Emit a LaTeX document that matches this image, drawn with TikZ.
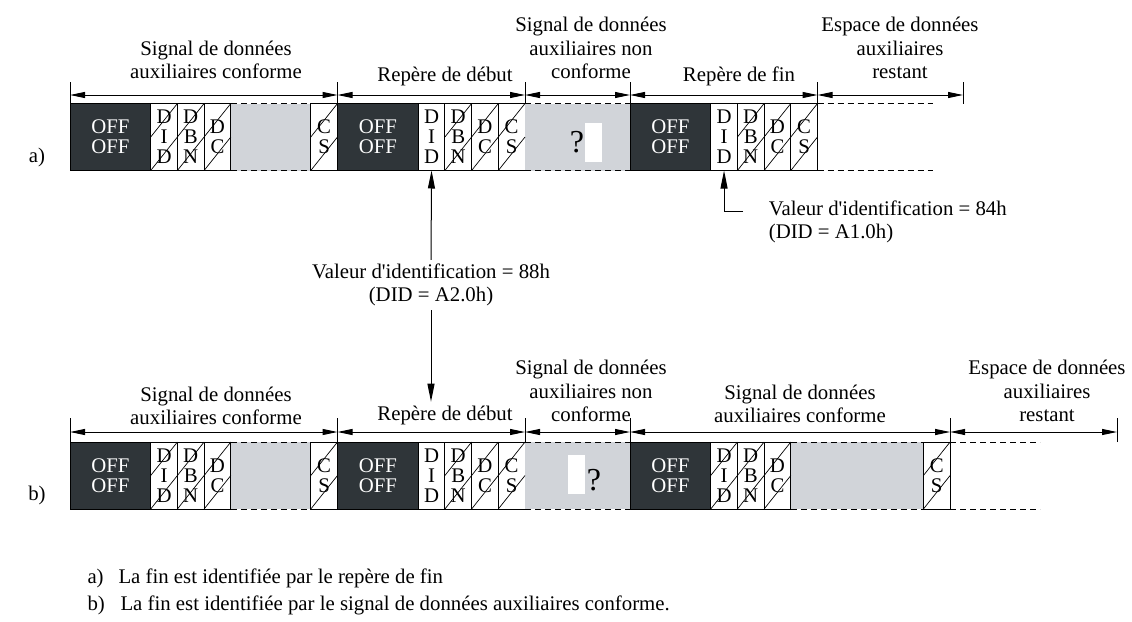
\documentclass[tikz,border=0pt]{standalone}
\usepackage{fontspec}
\setmainfont{Liberation Serif}[Ligatures=TeXOff]
\usetikzlibrary{arrows.meta}
\definecolor{offfill}{RGB}{47,53,57}
\definecolor{auxgray}{RGB}{209,212,217}
\begin{document}
\begin{tikzpicture}[x=1pt,y=-1pt,line width=1pt,
  font=\fontsize{20.8}{23.5}\selectfont,
  cell/.style={draw, anchor=north west, outer sep=0, inner sep=0, minimum height=67, align=center, font=\fontsize{20.8}{20}\selectfont},
  offcell/.style={cell, fill=offfill, text=white, minimum width=80.7},
  bytecell/.style={cell, minimum width=26.7},
  graycell/.style={anchor=north west, outer sep=0, inner sep=0, fill=auxgray, minimum height=67},
  dashline/.style={line width=0.8pt, dash pattern=on 6pt off 4pt},
  hatch/.style={line width=0.7pt},
  dim/.style={{Triangle[length=15pt,width=6pt]}-{Triangle[length=15pt,width=6pt]}},
  conn/.style={-{Triangle[length=18pt,width=7pt]}},
  lab/.style={align=center}]
\useasboundingbox (0,0) rectangle (1132,621);

% row a
\node[offcell] (aoff1) at (70,103.5) {OFF\\OFF};
\node[bytecell] (adid1) at (aoff1.north east) {D\\I\\D};
\node[bytecell] (adbn1) at (adid1.north east) {D\\B\\N};
\node[bytecell] (adc1) at (adbn1.north east) {D\\C};
\node[graycell, minimum width=80] (audw1) at (adc1.north east) {};
\node[bytecell] (acs1) at (audw1.north east) {C\\S};
\node[offcell] (aoff2) at (acs1.north east) {OFF\\OFF};
\node[bytecell] (adid2) at (aoff2.north east) {D\\I\\D};
\node[bytecell] (adbn2) at (adid2.north east) {D\\B\\N};
\node[bytecell] (adc2) at (adbn2.north east) {D\\C};
\node[bytecell] (acs2) at (adc2.north east) {C\\S};
\node[graycell, minimum width=105] (audw3) at (acs2.north east) {};
\node[offcell] (aoff4) at (audw3.north east) {OFF\\OFF};
\node[bytecell] (adid4) at (aoff4.north east) {D\\I\\D};
\node[bytecell] (adbn4) at (adid4.north east) {D\\B\\N};
\node[bytecell] (adc4) at (adbn4.north east) {D\\C};
\node[bytecell] (acs4) at (adc4.north east) {C\\S};
\coordinate (aend) at (963,103.5);

\node[fill=white, inner sep=0, minimum width=17, minimum height=39] (ablank) at (593.5,142.5) {};
\node[font=\fontsize{32}{32}\selectfont] (aq) at (577,142) {?};

\draw[dashline] (audw1.north west) -- (audw1.north east) (audw1.south west) -- (audw1.south east);
\draw[dashline] (audw3.north west) -- (audw3.north east) (audw3.south west) -- (audw3.south east);
\draw[dashline] (acs4.north east) -- ++(115,0) (acs4.south east) -- ++(115,0);

\foreach \c in {adid1,adbn1,adc1,acs1,adbn2,adc2,acs2,adbn4,adc4,acs4}
  \draw[hatch] (\c.west) -- (\c.north east) (\c.south west) -- (\c.east);

\foreach \t in {aoff1.north west,aoff2.north west,audw3.north west,aoff4.north west,acs4.north east,aend}
  \draw (\t) -- ++(0,-21.5);
\draw[dim] ([yshift=8.5pt]aoff1.north west) -- ([yshift=8.5pt]aoff2.north west);
\draw[dim] ([yshift=8.5pt]aoff2.north west) -- ([yshift=8.5pt]audw3.north west);
\draw[dim] ([yshift=8.5pt]audw3.north west) -- ([yshift=8.5pt]aoff4.north west);
\draw[dim] ([yshift=8.5pt]aoff4.north west) -- ([yshift=8.5pt]acs4.north east);
\draw[dim] ([yshift=8.5pt]acs4.north east) -- ([yshift=8.5pt]aend);

\node[lab] (alab1) at (216,60) {Signal de données\\auxiliaires conforme};
\node[lab] (alab2) at (445,76) {Repère de début};
\node[lab] (alab3) at (591,48) {Signal de données\\auxiliaires non\\conforme};
\node[lab] (alab4) at (739,76) {Repère de fin};
\node[lab] (alab5) at (900,48) {Espace de données\\auxiliaires\\restant};

% row b
\node[offcell] (boff1) at (70,442) {OFF\\OFF};
\node[bytecell] (bdid1) at (boff1.north east) {D\\I\\D};
\node[bytecell] (bdbn1) at (bdid1.north east) {D\\B\\N};
\node[bytecell] (bdc1) at (bdbn1.north east) {D\\C};
\node[graycell, minimum width=80] (budw1) at (bdc1.north east) {};
\node[bytecell] (bcs1) at (budw1.north east) {C\\S};
\node[offcell] (boff2) at (bcs1.north east) {OFF\\OFF};
\node[bytecell] (bdid2) at (boff2.north east) {D\\I\\D};
\node[bytecell] (bdbn2) at (bdid2.north east) {D\\B\\N};
\node[bytecell] (bdc2) at (bdbn2.north east) {D\\C};
\node[bytecell] (bcs2) at (bdc2.north east) {C\\S};
\node[graycell, minimum width=105] (budw3) at (bcs2.north east) {};
\node[offcell] (boff4) at (budw3.north east) {OFF\\OFF};
\node[bytecell] (bdid4) at (boff4.north east) {D\\I\\D};
\node[bytecell] (bdbn4) at (bdid4.north east) {D\\B\\N};
\node[bytecell] (bdc4) at (bdbn4.north east) {D\\C};
\node[graycell, minimum width=132.6] (budw4) at (bdc4.north east) {};
\node[bytecell] (bcs4) at (budw4.north east) {C\\S};
\coordinate (bend) at (1117,442);

\node[fill=white, inner sep=0, minimum width=17, minimum height=39] (bblank) at (576.5,474.5) {};
\node[font=\fontsize{32}{32}\selectfont] (bq) at (594,480) {?};

\draw[dashline] (budw1.north west) -- (budw1.north east) (budw1.south west) -- (budw1.south east);
\draw[dashline] (budw3.north west) -- (budw3.north east) (budw3.south west) -- (budw3.south east);
\draw[dashline] (budw4.north west) -- (budw4.north east) (budw4.south west) -- (budw4.south east);
\draw[dashline] (bcs4.north east) -- ++(90,0) (bcs4.south east) -- ++(90,0);

\foreach \c in {bdid1,bdbn1,bdc1,bcs1,bdbn2,bdc2,bcs2,bdid4,bdbn4,bdc4,bcs4}
  \draw[hatch] (\c.west) -- (\c.north east) (\c.south west) -- (\c.east);

\foreach \t in {boff1.north west,boff2.north west,budw3.north west,boff4.north west,bcs4.north east,bend}
  \draw (\t) -- ++(0,-24);
\draw[dim] ([yshift=10pt]boff1.north west) -- ([yshift=10pt]boff2.north west);
\draw[dim] ([yshift=10pt]boff2.north west) -- ([yshift=10pt]budw3.north west);
\draw[dim] ([yshift=10pt]budw3.north west) -- ([yshift=10pt]boff4.north west);
\draw[dim] ([yshift=10pt]boff4.north west) -- ([yshift=10pt]bcs4.north east);
\draw[dim] ([yshift=10pt]bcs4.north east) -- ([yshift=10pt]bend);

\node[lab] (blab1) at (216,406) {Signal de données\\auxiliaires conforme};
\node[lab] (blab2) at (445,415) {Repère de début};
\node[lab] (blab3) at (591,391) {Signal de données\\auxiliaires non\\conforme};
\node[lab] (blab4) at (800,404) {Signal de données\\auxiliaires conforme};
\node[lab] (blab5) at (1047,391) {Espace de données\\auxiliaires\\restant};

% identification values
\node[lab] (id88) at (431,285) {Valeur d'identification = 88h\\(DID = A2.0h)};
\draw[conn] (id88.north) -- (adid2.south);
\draw[conn] (id88.south) -- (blab2.north -| id88.south);
\coordinate (id84bend) at (743,211);
\node[align=left, anchor=west] (id84) at (765,222) {Valeur d'identification = 84h\\(DID = A1.0h)};
\draw[conn] (id84bend) -| (adid4.south);

% row letters and notes
\node (rowa) at (37,157) {a)};
\node (rowb) at (37,495) {b)};
\node[anchor=west, inner sep=0] (nota) at (87,578) {a)};
\node[anchor=west, inner sep=0] (notatxt) at (118,578) {La fin est identifiée par le repère de fin};
\node[anchor=west, inner sep=0] (notb) at (87,605) {b)};
\node[anchor=west, inner sep=0] (notbtxt) at (120,605) {La fin est identifiée par le signal de données auxiliaires conforme.};
\end{tikzpicture}
\end{document}
